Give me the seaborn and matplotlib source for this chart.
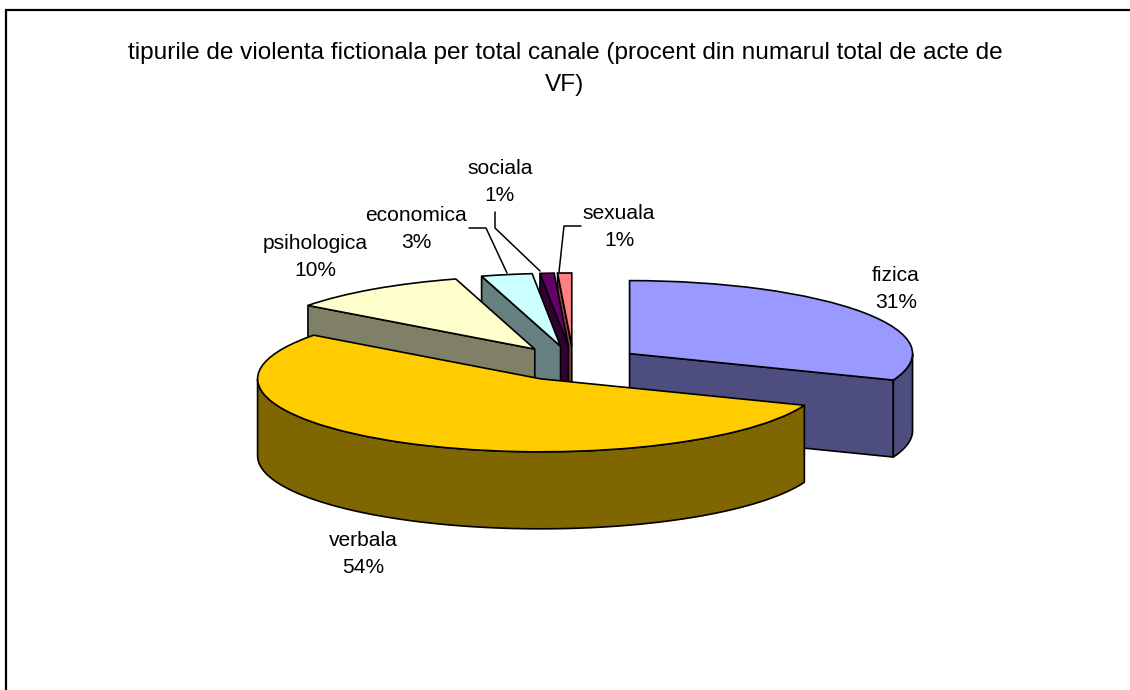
"""Exploded pseudo-3D pie of fictional violence types, drawn with seaborn styling."""
import matplotlib
matplotlib.use('Agg')
import matplotlib.pyplot as plt
import numpy as np
import seaborn as sns

WIDTH, HEIGHT = 1130, 690

TITLE = ('tipurile de violenta fictionala per total canale '
         '(procent din numarul total de acte de\nVF)')
categories = ['fizica', 'verbala', 'psihologica', 'economica', 'sociala', 'sexuala']
shares = [30.9, 54.3, 10.3, 2.9, 0.8, 0.8]
top_colors = ['#9999FF', '#FFCC00', '#FFFFCC', '#CCFFFF', '#660066', '#FF8080']

# pie geometry in pixels: ellipse radii, centre, wall height
RX, RY = 283.0, 73.0
CX, CY = 573.5, 363.5
DEPTH = 77.0 / RY
EXPLODE = 0.24

# centre of each two line label, in pixels
label_pos = {'fizica': (896, 289), 'verbala': (363, 554), 'psihologica': (315, 257),
             'economica': (416, 229), 'sociala': (500, 182), 'sexuala': (619, 227)}
# leader lines in pixels
leaders = {'economica': ([469, 486, 507], [228, 228, 273]),
           'sociala': ([495, 495, 540], [212, 228, 271]),
           'sexuala': ([581, 564, 559], [226, 226, 272])}


def wall(ax, xs, ys, color, zorder):
    """Fill a vertical wall hanging below the top edge given by xs, ys."""
    xs = np.asarray(xs)
    ys = np.asarray(ys)
    ax.fill(np.r_[xs, xs[::-1]], np.r_[ys, ys[::-1] - DEPTH], facecolor=color,
            edgecolor='black', linewidth=1.2, joinstyle='round', zorder=zorder)


def draw_walls(ax, start, end, color, zorder):
    """Draw the visible side faces of a slice, angles clockwise from 12 o'clock."""
    mid = np.radians((start + end) / 2)
    ax_x, ax_y = EXPLODE * np.sin(mid), EXPLODE * np.cos(mid)
    a, b = np.radians(start), np.radians(end)
    if np.sin(a) < -1e-6:
        wall(ax, [ax_x, ax_x + np.sin(a)], [ax_y, ax_y + np.cos(a)], color, zorder)
    if np.sin(b) > 1e-6:
        wall(ax, [ax_x, ax_x + np.sin(b)], [ax_y, ax_y + np.cos(b)], color, zorder)
    lo, hi = max(start, 90), min(end, 270)
    if hi > lo:
        t = np.radians(np.linspace(lo, hi, 80))
        wall(ax, ax_x + np.sin(t), ax_y + np.cos(t), color, zorder)


def main():
    sns.set_theme(style='white')
    plt.rcParams['font.family'] = ['Liberation Sans', 'DejaVu Sans']

    fig = plt.figure(figsize=(WIDTH / 100, HEIGHT / 100), dpi=100, facecolor='white')
    ax = fig.add_axes([0, 0, 1, 1])
    palette = sns.color_palette(top_colors)
    side_colors = [tuple(c * 0.5 for c in col) for col in palette]

    wedges, _ = ax.pie(shares, explode=[EXPLODE] * len(shares), colors=palette,
                       startangle=90, counterclock=False, radius=1,
                       wedgeprops={'edgecolor': 'black', 'linewidth': 1.2})
    ax.set_aspect('auto')
    ax.set_xlim(-CX / RX, (WIDTH - CX) / RX)
    ax.set_ylim((CY - HEIGHT) / RY, CY / RY)

    # back slices first, the big front slice last
    bounds = np.r_[0, np.cumsum(shares)] * 3.6
    paint_order = [5, 4, 3, 2, 0, 1]
    for rank, i in enumerate(paint_order):
        draw_walls(ax, bounds[i], bounds[i + 1], side_colors[i], 2 * rank + 1)
        wedges[i].set_zorder(2 * rank + 2)

    # overlay in pixel coordinates for texts, leaders and the clipped frame
    over = fig.add_axes([0, 0, 1, 1], facecolor='none')
    over.set_xlim(0, WIDTH)
    over.set_ylim(HEIGHT, 0)
    over.axis('off')
    over.plot([5.5, 5.5, WIDTH], [HEIGHT, 10, 10], color='black', linewidth=1.6,
              solid_joinstyle='miter')
    over.text(565, 69, TITLE, ha='center', va='center', fontsize=17.6,
              linespacing=1.62, color='black')
    for name, share in zip(categories, shares):
        x, y = label_pos[name]
        over.text(x, y, f'{name}\n{round(share)}%', ha='center', va='center',
                  fontsize=15.1, linespacing=1.5, color='black')
    for xs, ys in leaders.values():
        over.plot(xs, ys, color='black', linewidth=1.1)

    fig.savefig('out.png', dpi=100)


if __name__ == '__main__':
    main()
